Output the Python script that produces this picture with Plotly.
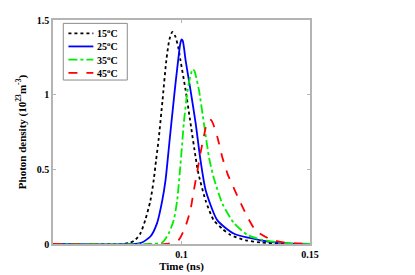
import plotly.graph_objects as go

# Time (ns) samples and photon density (10^23 m^-3)
t_15 = [0.05, 0.077, 0.0800, 0.0820, 0.0840, 0.0859, 0.0879, 0.0892, 0.0901, 0.0911, 0.0926,
        0.0941, 0.0953, 0.0964, 0.0976, 0.0987, 0.0996, 0.1016, 0.1035, 0.1055, 0.1066, 0.1094,
        0.1125, 0.1160, 0.1191, 0.1250, 0.1309, 0.1387, 0.145, 0.15]
v_15 = [0, 0, 0.008, 0.027, 0.07, 0.16, 0.29, 0.43, 0.56, 0.70, 0.96,
        1.23, 1.37, 1.42, 1.39, 1.32, 1.23, 1.03, 0.81, 0.58, 0.47, 0.29,
        0.16, 0.10, 0.06, 0.025, 0.01, 0.003, 0, 0]

t_25 = [0.05, 0.082, 0.0846, 0.0879, 0.0905, 0.0925, 0.0938, 0.0946, 0.0954, 0.0966, 0.0977,
        0.0989, 0.0995, 0.1000, 0.1005, 0.1010, 0.1016, 0.1035, 0.1055, 0.1074, 0.1094, 0.1139,
        0.1203, 0.1309, 0.14, 0.15]
v_25 = [0, 0, 0.01, 0.05, 0.14, 0.29, 0.43, 0.56, 0.70, 0.90, 1.08,
        1.26, 1.34, 1.37, 1.36, 1.31, 1.23, 1.03, 0.81, 0.56, 0.36, 0.16,
        0.07, 0.025, 0.005, 0]

t_35 = [0.05, 0.088, 0.0925, 0.0950, 0.0970, 0.0983, 0.0993, 0.1003, 0.1009, 0.1022, 0.1030,
        0.1037, 0.1043, 0.1050, 0.1058, 0.1068, 0.1087, 0.1107, 0.1126, 0.1159, 0.1204, 0.1257,
        0.1309, 0.1387, 0.145, 0.15]
v_35 = [0, 0, 0.01, 0.07, 0.16, 0.29, 0.47, 0.68, 0.81, 1.01, 1.09,
        1.14, 1.17, 1.16, 1.11, 1.03, 0.81, 0.58, 0.44, 0.27, 0.14, 0.06,
        0.03, 0.008, 0, 0]

t_45 = [0.05, 0.094, 0.0989, 0.1016, 0.1035, 0.1048, 0.1061, 0.1074, 0.1087, 0.1097, 0.1106,
        0.1115, 0.1124, 0.1139, 0.1159, 0.1179, 0.1218, 0.1257, 0.1289, 0.1348, 0.1398, 0.1465,
        0.15]
v_45 = [0, 0, 0.027, 0.12, 0.23, 0.36, 0.48, 0.61, 0.72, 0.80, 0.83,
        0.83, 0.80, 0.72, 0.58, 0.47, 0.32, 0.18, 0.09, 0.03, 0.01, 0.002,
        0]

labels = ["15<sup>o</sup>C", "25<sup>o</sup>C", "35<sup>o</sup>C", "45<sup>o</sup>C"]
x_ticks = [0.1, 0.15]
x_tick_text = ["0.1", "0.15"]
y_ticks = [0, 0.5, 1, 1.5]
y_tick_text = ["0", "0.5", "1", "1.5"]

series = [
    (t_15, v_15, labels[0], "black", "dot"),
    (t_25, v_25, labels[1], "blue", "solid"),
    (t_35, v_35, labels[2], "#00ee00", "dashdot"),
    (t_45, v_45, labels[3], "red", "dash"),
]

font_family = "Liberation Serif"
axis_color = "#b4b4b4"

fig = go.Figure()
for t, v, name, color, dash in series:
    fig.add_trace(go.Scatter(
        x=t, y=v, mode="lines", name=name, showlegend=False,
        line=dict(color=color, dash=dash, width=1.8, shape="spline", smoothing=0.6),
    ))

# legend drawn as a box with line samples and labels (paper coordinates)
fig.add_shape(type="rect", xref="paper", yref="paper", x0=0.040, x1=0.289, y0=0.732, y1=0.985,
              line=dict(color="#8a8a8a", width=1), fillcolor="white", layer="above")
row_y = [0.940, 0.882, 0.823, 0.764]
for (t, v, name, color, dash), ry in zip(series, row_y):
    fig.add_shape(type="line", xref="paper", yref="paper", x0=0.060, x1=0.157, y0=ry, y1=ry,
                  line=dict(color=color, dash=dash, width=1.8), layer="above")
    fig.add_annotation(xref="paper", yref="paper", x=0.165, y=ry, text=name, showarrow=False,
                       xanchor="left", yanchor="middle",
                       font=dict(family=font_family, size=10, color="black", weight="bold"))

fig.update_layout(
    width=407, height=267,
    margin=dict(l=45, r=105, t=12, b=31),
    paper_bgcolor="white", plot_bgcolor="white",
    font=dict(family=font_family, size=10, color="black", weight="bold"),
    showlegend=False,
)
fig.update_xaxes(
    range=[0.05, 0.15], tickvals=x_ticks, ticktext=x_tick_text, automargin=False,
    showline=True, linecolor=axis_color, linewidth=1.5, mirror="ticks",
    ticks="inside", ticklen=3, tickcolor=axis_color, showgrid=False, zeroline=False,
    tickfont=dict(family=font_family, size=10, color="black", weight="bold"),
    title=dict(text="Time (ns)", standoff=4,
               font=dict(family=font_family, size=11, color="black", weight="bold")),
)
fig.update_yaxes(
    range=[0, 1.5], tickvals=y_ticks, ticktext=y_tick_text, automargin=False,
    showline=True, linecolor=axis_color, linewidth=1.5, mirror="ticks",
    ticks="inside", ticklen=3, tickcolor=axis_color, showgrid=False, zeroline=False,
    tickfont=dict(family=font_family, size=10, color="black", weight="bold"),
    title=dict(text="Photon density (10<sup>23</sup>m<sup>-3</sup>)", standoff=8,
               font=dict(family=font_family, size=11, color="black", weight="bold")),
)

fig.write_html("out.html")
